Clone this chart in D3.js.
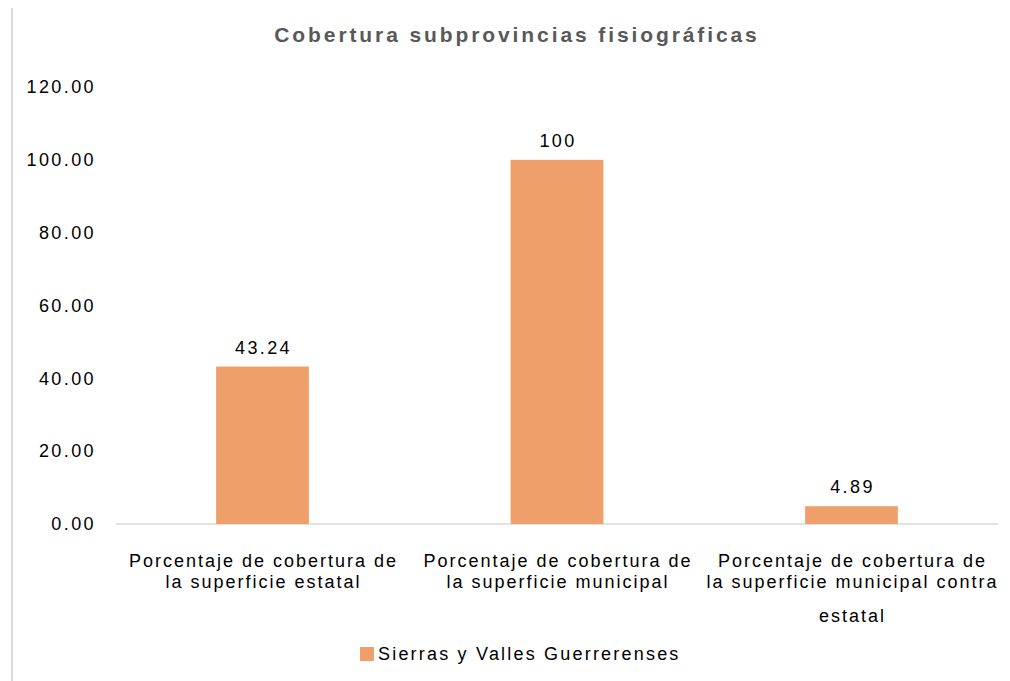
<!DOCTYPE html>
<html>
<head>
<meta charset="utf-8">
<script src="https://cdn.jsdelivr.net/npm/d3@7"></script>
<style>
  body { margin: 0; background: #fff; }
  svg text { font-family: "Liberation Sans", Arial, sans-serif; }
</style>
</head>
<body>
<svg id="chart" width="1010" height="681"></svg>
<script>
// chart data
const categories = [
  "Porcentaje de cobertura de la superficie estatal",
  "Porcentaje de cobertura de la superficie municipal",
  "Porcentaje de cobertura de la superficie municipal contra estatal"
];
const categoryLines = [
  ["Porcentaje de cobertura de", "la superficie estatal"],
  ["Porcentaje de cobertura de", "la superficie municipal"],
  ["Porcentaje de cobertura de", "la superficie municipal contra", "estatal"]
];
const values = [43.24, 100, 4.89];
const valueLabels = ["43.24", "100", "4.89"];
const yTicks = [0, 20, 40, 60, 80, 100, 120];
const seriesName = "Sierras y Valles Guerrerenses";
const title = "Cobertura subprovincias fisiográficas";

const svg = d3.select("#chart");
const barColor = "#efa06a";

// left frame line
svg.append("line")
  .attr("x1", 12).attr("x2", 12)
  .attr("y1", 8).attr("y2", 681)
  .attr("stroke", "#d9d9d9")
  .attr("stroke-width", 2);

const x = d3.scaleBand()
  .domain(categories)
  .range([116, 998])
  .paddingInner(0.685)
  .paddingOuter(0.34);

const y = d3.scaleLinear()
  .domain([0, 120])
  .range([524, 87]);

// title
svg.append("text")
  .attr("x", 517)
  .attr("y", 42)
  .attr("text-anchor", "middle")
  .attr("fill", "#595959")
  .attr("font-size", 21)
  .attr("font-weight", "bold")
  .attr("letter-spacing", 2.9)
  .text(title);

// y axis labels
const yAxis = d3.axisLeft(y)
  .tickValues(yTicks)
  .tickFormat(d3.format(".2f"))
  .tickSize(0)
  .tickPadding(0);

svg.append("g")
  .attr("transform", "translate(96,0)")
  .call(yAxis)
  .call(g => g.select(".domain").remove())
  .call(g => g.selectAll("text")
    .attr("fill", "#000")
    .attr("font-size", 18)
    .attr("letter-spacing", 2.4)
    .attr("font-family", "Liberation Sans, Arial, sans-serif"));

// baseline
svg.append("line")
  .attr("x1", 116).attr("x2", 998)
  .attr("y1", y(0)).attr("y2", y(0))
  .attr("stroke", "#d9d9d9")
  .attr("stroke-width", 1.5);

// bars
svg.selectAll("rect.bar")
  .data(values)
  .join("rect")
  .attr("class", "bar")
  .attr("x", (d, i) => x(categories[i]))
  .attr("width", x.bandwidth())
  .attr("y", d => y(d))
  .attr("height", d => y(0) - y(d))
  .attr("fill", barColor);

// value labels
svg.selectAll("text.val")
  .data(values)
  .join("text")
  .attr("class", "val")
  .attr("x", (d, i) => x(categories[i]) + x.bandwidth() / 2 + 1)
  .attr("y", d => y(d) - 13)
  .attr("text-anchor", "middle")
  .attr("font-size", 18)
  .attr("letter-spacing", 2.4)
  .attr("fill", "#000")
  .text((d, i) => valueLabels[i]);

// category labels
const lineY = [567, 588, 622];
categoryLines.forEach((lines, i) => {
  const cx = x(categories[i]) + x.bandwidth() / 2 + 1;
  svg.append("text")
    .attr("text-anchor", "middle")
    .attr("font-size", 18)
    .attr("letter-spacing", 2)
    .attr("fill", "#000")
    .selectAll("tspan")
    .data(lines)
    .join("tspan")
    .attr("x", cx)
    .attr("y", (d, j) => lineY[j])
    .text(d => d);
});

// legend
const legend = svg.append("g").attr("transform", "translate(360,647)");
legend.append("rect")
  .attr("width", 14).attr("height", 14)
  .attr("fill", barColor);
legend.append("text")
  .attr("x", 18)
  .attr("y", 13)
  .attr("font-size", 18)
  .attr("letter-spacing", 2.2)
  .attr("fill", "#000")
  .text(seriesName);
</script>
</body>
</html>
